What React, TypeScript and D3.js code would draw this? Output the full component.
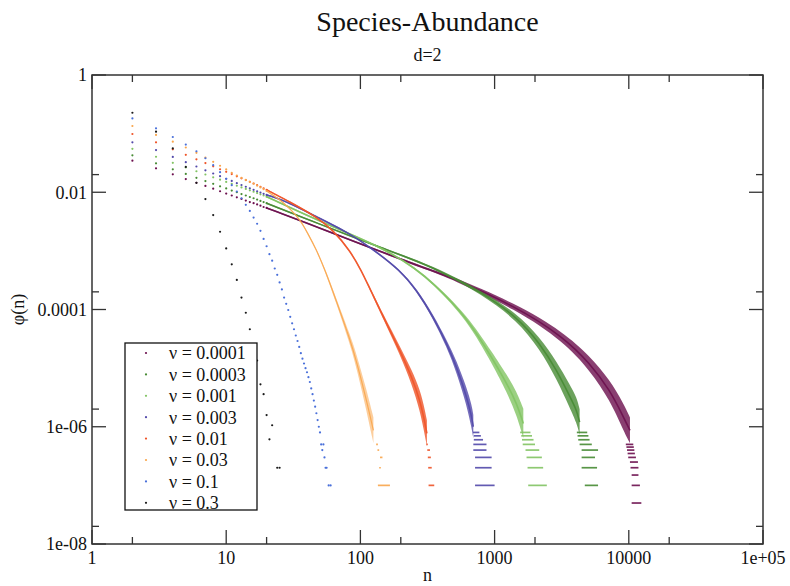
import React from "react";
import * as d3 from "d3";

const WIDTH = 790;
const HEIGHT = 586;
const PLOT = { left: 92, right: 763, top: 75, bottom: 544 };

const titleText = "Species-Abundance";
const subtitleText = "d=2";
const xAxisLabel = "n";
const yAxisLabel = "φ(n)";

const nuValues = ["0.0001", "0.0003", "0.001", "0.003", "0.01", "0.03", "0.1", "0.3"];
const seriesColors = ["#6c0f4e", "#478b34", "#82c463", "#5249aa", "#ef5428", "#f9a64c", "#4a70da", "#1a1a1a"];

const xTickValues = [1, 10, 100, 1000, 10000, 100000];
const xTickLabels = ["1", "10", "100", "1000", "10000", "1e+05"];
const xMinorValues = [2, 20, 200, 2000, 20000];
const yTickValues = [1, 0.01, 0.0001, 1e-6, 1e-8];
const yTickLabels = ["1", "0.01", "0.0001", "1e-06", "1e-08"];
const yMinorValues = [0.02, 2e-4, 2e-6, 2e-8];

// phi(n) at integer n = 2, 3, 4, ... (separate dots)
const dots_0_0001 = [0.0345, 0.0256, 0.0202, 0.0168, 0.0145, 0.0128, 0.0115, 0.0104, 0.0095, 0.0088, 0.0082, 0.0077, 0.0072, 0.0068, 0.0065, 0.0062, 0.0059, 0.0056, 0.0054];
const dots_0_0003 = [0.0426, 0.0311, 0.0246, 0.0205, 0.0176, 0.0155, 0.0139, 0.0126, 0.0116, 0.0107, 0.01, 0.0093, 0.0088, 0.0083, 0.0079, 0.0075, 0.0071, 0.0068, 0.0065];
const dots_0_001 = [0.055, 0.0403, 0.0318, 0.0265, 0.0228, 0.0201, 0.018, 0.0164, 0.015, 0.0139, 0.0129, 0.0121, 0.0114, 0.0108, 0.0102, 0.0097, 0.0092, 0.0088, 0.0084];
const dots_0_003 = [0.071, 0.0525, 0.0401, 0.0326, 0.0275, 0.0237, 0.0209, 0.0188, 0.017, 0.0156, 0.0143, 0.0133, 0.0124, 0.0117, 0.011, 0.0104, 0.0099, 0.0094, 0.009];
const dots_0_01 = [0.0985, 0.0711, 0.0539, 0.0435, 0.0365, 0.0315, 0.0277, 0.0247, 0.0223, 0.0204, 0.0187, 0.0173, 0.0161, 0.0151, 0.0141, 0.0132, 0.0124, 0.0117, 0.011];
const dots_0_03 = [0.135, 0.095, 0.073, 0.058, 0.047, 0.039, 0.033, 0.0283, 0.0245, 0.0215, 0.0193, 0.0176, 0.0162, 0.015, 0.014, 0.013, 0.0121, 0.0113, 0.0105];
const dots_0_1 = [0.182, 0.123, 0.0875, 0.065, 0.05, 0.038, 0.029, 0.022, 0.017, 0.0132, 0.0103, 0.0079, 0.0061, 0.0048, 0.0037, 0.0029, 0.0022, 0.0016, 0.0012, 0.00088, 0.00068, 0.0005, 0.00039, 0.00029, 0.00022, 0.00016, 0.000125, 0.000098, 0.000075, 5.8e-5, 4.6e-5, 3.6e-5, 2.9e-5, 2.3e-5, 1.8e-5, 1.45e-5, 1.2e-5, 1e-5, 8.5e-6, 7e-6, 5.8e-6, 4.5e-6, 3.6e-6, 2.8e-6, 2.2e-6, 1.7e-6, 1.3e-6, 1e-6, 8e-7];
const dots_0_3 = [0.227, 0.108, 0.056, 0.027, 0.0145, 0.00765, 0.00408, 0.00212, 0.0011, 5.9e-4, 3.2e-4, 1.6e-4, 8.8e-5, 4.6e-5, 2.5e-5, 1.35e-5];

// extra sparse points [n, phi]
const extra_0_1 = [[51, 5e-7], [52, 4e-7], [53, 5e-7], [54, 3e-7], [55, 2e-7], [56, 2e-7], [58, 1e-7], [60, 1e-7]];
const extra_0_3 = [[18, 5.3e-6], [19, 3.6e-6], [20, 1.58e-6], [21, 6.1e-7], [22, 1.06e-6], [24, 2e-7], [25, 2e-7]];

// dense part: [n, phi, scatter (decades)]
const body_0_0001 = [[20, 0.0054, 0.012], [47, 0.00258, 0.012], [132, 0.00103, 0.015], [330, 4.7e-4, 0.02], [465, 3.6e-4, 0.025], [1462, 1.11e-4, 0.05], [3252, 3.42e-5, 0.08], [5140, 1.2e-5, 0.12], [7240, 4.2e-6, 0.17], [9100, 1.48e-6, 0.23], [10200, 8.7e-7, 0.22]];
const body_0_0003 = [[20, 0.0065, 0.012], [47, 0.003, 0.012], [147, 0.0011, 0.014], [349, 5.35e-4, 0.018], [824, 1.88e-4, 0.03], [1462, 7.5e-5, 0.06], [2178, 2.64e-5, 0.1], [2901, 9.2e-6, 0.15], [3647, 3.24e-6, 0.2], [4090, 1.92e-6, 0.22], [4300, 1.2e-6, 0.22]];
const body_0_001 = [[20, 0.0084, 0.012], [47, 0.00336, 0.012], [150, 0.00112, 0.014], [263, 4.8e-4, 0.016], [349, 2.79e-4, 0.02], [620, 7.5e-5, 0.04], [978, 1.37e-5, 0.1], [1231, 5.5e-6, 0.15], [1462, 2.5e-6, 0.2], [1637, 1.14e-6, 0.25]];
const body_0_003 = [[20, 0.009, 0.012], [26.6, 0.0074, 0.012], [47, 0.00382, 0.012], [80, 0.0021, 0.012], [125, 0.00105, 0.013], [197, 4.7e-4, 0.016], [263, 2.14e-4, 0.022], [349, 7.5e-5, 0.04], [439, 2.64e-5, 0.06], [522, 1.05e-5, 0.1], [620, 3.24e-6, 0.15], [675, 1.48e-6, 0.2], [694, 1e-6, 0.2]];
const body_0_01 = [[20, 0.011, 0.012], [30, 0.0068, 0.012], [47, 0.0038, 0.012], [62.6, 0.00226, 0.013], [84, 0.001, 0.015], [102, 4.5e-4, 0.018], [111, 3e-4, 0.02], [148, 7.5e-5, 0.04], [197, 2e-5, 0.07], [241, 7.1e-6, 0.12], [278, 2.85e-6, 0.18], [303, 1.14e-6, 0.22], [313, 7.7e-7, 0.22]];
const body_0_03 = [[20, 0.0105, 0.01], [25, 0.0076, 0.01], [30, 0.0052, 0.01], [35.5, 0.0034, 0.012], [40, 0.0021, 0.014], [47, 0.00105, 0.018], [54.5, 4.7e-4, 0.025], [65, 1.57e-4, 0.04], [84, 3e-5, 0.08], [94, 1.26e-5, 0.12], [111, 2.85e-6, 0.18], [125, 8.7e-7, 0.22]];

// quantized low-count levels: [phi, nMin, nMax]
const tail_0_0001 = [[5e-7, 9500, 10800], [4.5e-7, 9600, 10900], [4e-7, 9700, 11000], [3.5e-7, 9800, 11100], [3e-7, 9900, 11300], [2.5e-7, 10200, 11700], [2e-7, 10300, 11800], [1.5e-7, 10500, 11800], [1e-7, 10500, 12100], [5e-8, 10500, 12400]];
const tail_0_0003 = [[8e-7, 4100, 4900], [7e-7, 4150, 5000], [6e-7, 4200, 5100], [5e-7, 4300, 5300], [4e-7, 4450, 5900], [3e-7, 4450, 5600], [2e-7, 4450, 5800], [1e-7, 4700, 5900]];
const tail_0_001 = [[8e-7, 1550, 1850], [7e-7, 1580, 1900], [6e-7, 1600, 1950], [5e-7, 1620, 2000], [4e-7, 1700, 2150], [3e-7, 1730, 2250], [2e-7, 1760, 2300], [1e-7, 1780, 2450]];
const tail_0_003 = [[8e-7, 690, 770], [7e-7, 700, 790], [6e-7, 700, 820], [5e-7, 694, 870], [4e-7, 694, 870], [3e-7, 715, 950], [2e-7, 715, 950], [1e-7, 715, 1000]];
const tail_0_01 = [[5e-7, 310, 318], [4e-7, 315, 330], [3e-7, 318, 335], [2e-7, 320, 340], [1e-7, 322, 355]];
const tail_0_03 = [[5e-7, 131, 135], [4e-7, 134, 138], [3e-7, 140, 146], [2e-7, 138, 142], [1e-7, 135, 166]];

const allDots = [dots_0_0001, dots_0_0003, dots_0_001, dots_0_003, dots_0_01, dots_0_03, dots_0_1, dots_0_3];
const allExtras = [[], [], [], [], [], [], extra_0_1, extra_0_3];
const allBodies = [body_0_0001, body_0_0003, body_0_001, body_0_003, body_0_01, body_0_03, [], []];
const allTails = [tail_0_0001, tail_0_0003, tail_0_001, tail_0_003, tail_0_01, tail_0_03, [], []];

const FONT = "'Liberation Serif', 'Times New Roman', 'DejaVu Serif', serif";

export default function App() {
  const x = d3.scaleLog().domain([1, 1e5]).range([PLOT.left, PLOT.right]);
  const y = d3.scaleLog().domain([1e-8, 1]).range([PLOT.bottom, PLOT.top]);

  const area = d3
    .area<number[]>()
    .x((d) => x(d[0]))
    .y0((d) => y(d[1] * Math.pow(10, -d[2])))
    .y1((d) => y(d[1] * Math.pow(10, d[2])))
    .curve(d3.curveBasis);
  const line = d3
    .line<number[]>()
    .x((d) => x(d[0]))
    .y((d) => y(d[1]))
    .curve(d3.curveBasis);

  const axisColor = "#333";
  const majorLen = 14;
  const minorLen = 7;

  return (
    <svg width={WIDTH} height={HEIGHT} style={{ display: "block", position: "absolute", left: 0, top: 0, background: "#fff" }} fontFamily={FONT}>
      <rect x={0} y={0} width={WIDTH} height={HEIGHT} fill="#fff" />
      {/* series */}
      {allDots.map((dots, si) => {
        const color = seriesColors[si];
        const isOrange = si === 5;
        return (
          <g key={si}>
            {allBodies[si].length > 0 && (
              <>
                <path d={area(allBodies[si]) || ""} fill={color} opacity={isOrange ? 0.55 : 0.8} />
                <path d={line(allBodies[si]) || ""} fill="none" stroke={color} strokeWidth={isOrange ? 1.2 : 1.6} opacity={0.9} />
              </>
            )}
            {allTails[si].map((t, ti) => (
              <line key={"t" + ti} x1={x(t[1])} x2={x(t[2])} y1={y(t[0])} y2={y(t[0])} stroke={color} strokeWidth={1.7} opacity={0.9} />
            ))}
            {dots.map((v, i) => (
              <circle key={"d" + i} cx={x(i + 2)} cy={y(v)} r={1.1} fill={color} />
            ))}
            {allExtras[si].map((p, i) => (
              <circle key={"e" + i} cx={x(p[0])} cy={y(p[1])} r={1.1} fill={color} />
            ))}
          </g>
        );
      })}

      {/* frame */}
      <rect x={PLOT.left} y={PLOT.top} width={PLOT.right - PLOT.left} height={PLOT.bottom - PLOT.top} fill="none" stroke={axisColor} strokeWidth={1.5} />
      {xTickValues.map((v, i) => (
        <g key={"xt" + i}>
          <line x1={x(v)} x2={x(v)} y1={PLOT.bottom} y2={PLOT.bottom - majorLen} stroke={axisColor} strokeWidth={1.3} />
          <line x1={x(v)} x2={x(v)} y1={PLOT.top} y2={PLOT.top + majorLen} stroke={axisColor} strokeWidth={1.3} />
          <text x={x(v)} y={PLOT.bottom + 20} textAnchor="middle" fontSize={18} fill="#111">
            {xTickLabels[i]}
          </text>
        </g>
      ))}
      {xMinorValues.map((v, i) => (
        <g key={"xm" + i}>
          <line x1={x(v)} x2={x(v)} y1={PLOT.bottom} y2={PLOT.bottom - minorLen} stroke={axisColor} strokeWidth={1.3} />
          <line x1={x(v)} x2={x(v)} y1={PLOT.top} y2={PLOT.top + minorLen} stroke={axisColor} strokeWidth={1.3} />
        </g>
      ))}
      {yTickValues.map((v, i) => (
        <g key={"yt" + i}>
          <line x1={PLOT.left} x2={PLOT.left + majorLen} y1={y(v)} y2={y(v)} stroke={axisColor} strokeWidth={1.3} />
          <line x1={PLOT.right} x2={PLOT.right - majorLen} y1={y(v)} y2={y(v)} stroke={axisColor} strokeWidth={1.3} />
          <text x={PLOT.left - 5} y={y(v)} dy="0.35em" textAnchor="end" fontSize={18} fill="#111">
            {yTickLabels[i]}
          </text>
        </g>
      ))}
      {yMinorValues.map((v, i) => (
        <g key={"ym" + i}>
          <line x1={PLOT.left} x2={PLOT.left + minorLen} y1={y(v)} y2={y(v)} stroke={axisColor} strokeWidth={1.3} />
          <line x1={PLOT.right} x2={PLOT.right - minorLen} y1={y(v)} y2={y(v)} stroke={axisColor} strokeWidth={1.3} />
        </g>
      ))}

      {/* titles */}
      <text x={(PLOT.left + PLOT.right) / 2} y={31} textAnchor="middle" fontSize={28} fill="#111">
        {titleText}
      </text>
      <text x={(PLOT.left + PLOT.right) / 2} y={61} textAnchor="middle" fontSize={18} fill="#111">
        {subtitleText}
      </text>
      <text x={(PLOT.left + PLOT.right) / 2} y={581} textAnchor="middle" fontSize={18} fill="#111">
        {xAxisLabel}
      </text>
      <text transform={`translate(24, ${(PLOT.top + PLOT.bottom) / 2}) rotate(-90)`} textAnchor="middle" fontSize={18} fill="#111">
        {yAxisLabel}
      </text>

      {/* legend */}
      <g>
        <rect x={125} y={343} width={132} height={167} fill="#fff" stroke="#111" strokeWidth={1.3} />
        {nuValues.map((nu, i) => (
          <g key={"lg" + i}>
            <circle cx={146} cy={353 + i * 21.4} r={1.1} fill={seriesColors[i]} />
            <text x={169} y={353 + i * 21.4} dy="0.35em" fontSize={18} fill="#111">
              {"ν = " + nu}
            </text>
          </g>
        ))}
      </g>
    </svg>
  );
}
